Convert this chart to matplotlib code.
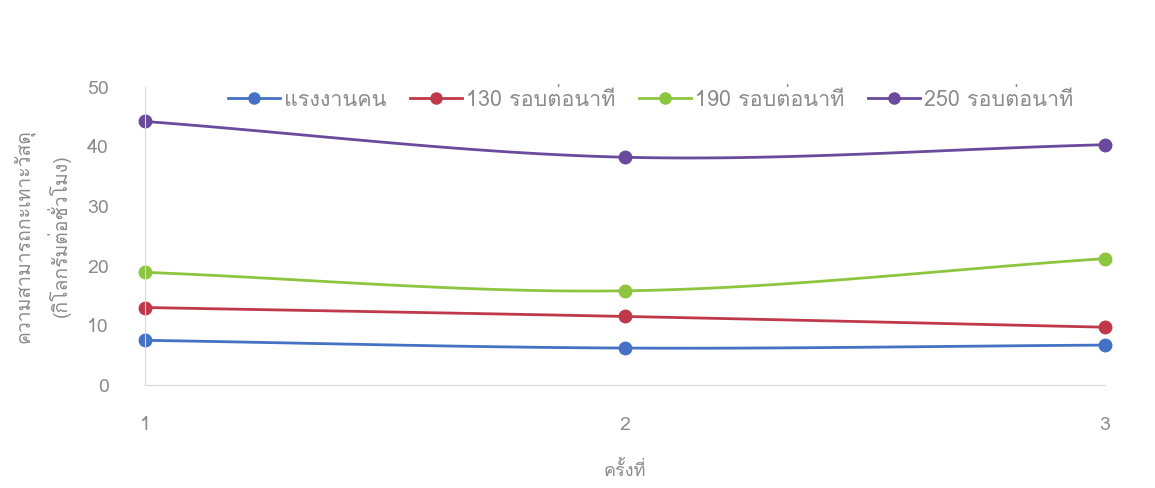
import numpy as np
import matplotlib
matplotlib.use("Agg")
import matplotlib.pyplot as plt
from matplotlib import font_manager
from matplotlib.ft2font import FT2Font

rounds = [1, 2, 3]
series_names = ["แรงงานคน", "130 รอบต่อนาที", "190 รอบต่อนาที", "250 รอบต่อนาที"]
labor = [7.5, 6.2, 6.7]
rpm130 = [13.0, 11.5, 9.7]
rpm190 = [18.9, 15.8, 21.2]
rpm250 = [44.2, 38.2, 40.3]
colors = ["#4472c4", "#c0394b", "#8cc63f", "#6a4a9c"]
yticks = [0, 10, 20, 30, 40, 50]
ylabel = "ความสามารถกะเทาะวัสดุ\n(กิโลกรัมต่อชั่วโมง)"
xlabel = "ครั้งที่"


# look for any installed font that actually has Thai glyphs
def thai_family():
    for f in font_manager.fontManager.ttflist:
        try:
            if 0x0E01 in FT2Font(f.fname).get_charmap():
                return f.name
        except Exception:
            pass
    return None


fam = thai_family()
plt.rcParams['font.family'] = ([fam] if fam else []) + ['DejaVu Sans']


def smooth(x, y, n=60):
    # catmull-rom style smoothing like excel smoothed lines
    x = np.asarray(x, float)
    y = np.asarray(y, float)
    px = np.concatenate([[2 * x[0] - x[1]], x, [2 * x[-1] - x[-2]]])
    py = np.concatenate([[2 * y[0] - y[1]], y, [2 * y[-1] - y[-2]]])
    xs, ys = [], []
    for i in range(1, len(px) - 2):
        t = np.linspace(0, 1, n)
        for p, out in ((px, xs), (py, ys)):
            p0, p1, p2, p3 = p[i - 1], p[i], p[i + 1], p[i + 2]
            out.extend(0.5 * ((2 * p1) + (-p0 + p2) * t
                              + (2 * p0 - 5 * p1 + 4 * p2 - p3) * t ** 2
                              + (-p0 + 3 * p1 - 3 * p2 + p3) * t ** 3))
    return xs, ys


fig = plt.figure(figsize=(11.55, 4.88), dpi=100)
ax = fig.add_axes([0.1255, 0.211, 0.831, 0.611])

for vals, c, name in zip([labor, rpm130, rpm190, rpm250], colors, series_names):
    sx, sy = smooth(rounds, vals)
    ax.plot(sx, sy, color=c, lw=2, clip_on=False)
    ax.plot(rounds, vals, 'o', color=c, ms=9, clip_on=False)
    ax.plot([], [], color=c, lw=2, marker='o', ms=8, label=name)

ax.set_xlim(1, 3)
ax.set_ylim(0, 50)
ax.set_xticks(rounds)
ax.set_yticks(yticks)
for s in ['top', 'right']:
    ax.spines[s].set_visible(False)
for s in ['left', 'bottom']:
    ax.spines[s].set_color('#d9d9d9')
ax.tick_params(length=0, colors='#8c8c8c', labelsize=14)
ax.tick_params(axis='y', pad=26)
ax.tick_params(axis='x', pad=22)

ax.set_ylabel(ylabel, color='#8c8c8c', fontsize=14, labelpad=12, linespacing=1.6)
ax.set_xlabel(xlabel, color='#8c8c8c', fontsize=13, labelpad=20)

ax.legend(loc='center', bbox_to_anchor=(0.527, 0.956), ncol=4, frameon=False,
          fontsize=15.5, labelcolor='#8c8c8c', handlelength=2.4, columnspacing=1.1,
          handletextpad=0.2)

fig.savefig("out.png", dpi=100)
